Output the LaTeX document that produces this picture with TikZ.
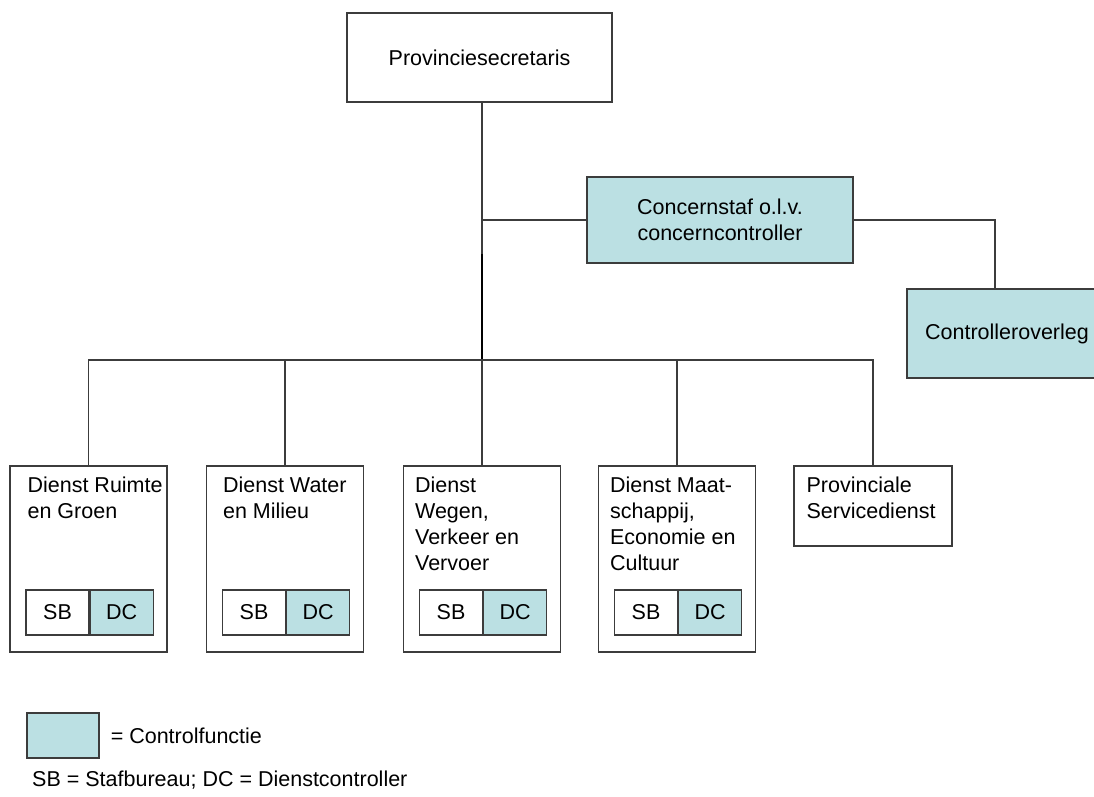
\documentclass[tikz,border=0pt]{standalone}
\usepackage{fontspec}
\setmainfont{Liberation Sans}
\definecolor{ctrlfill}{RGB}{187,224,227}
\definecolor{edge}{RGB}{60,60,60}
\begin{document}
\begin{tikzpicture}[x=1pt,y=-1pt,
  font=\fontsize{21.5}{26}\selectfont,
  box/.style={draw=edge, line width=1.2pt, inner sep=0pt, align=center},
  ctrl/.style={box, fill=ctrlfill},
  unit/.style={box, minimum width=157pt, minimum height=186pt},
  sub/.style={box, minimum width=63pt, minimum height=45pt},
  label/.style={inner sep=0pt, anchor=north west, align=left},
  link/.style={draw=edge, line width=1.2pt}]
\useasboundingbox (0,0) rectangle (1094,796);

% top of the organisation
\node[box, minimum width=265pt, minimum height=89pt] (ps) at (479.5,57.5) {Provinciesecretaris};
\node[ctrl, minimum width=266pt, minimum height=86pt] (cs) at (720,220) {Concernstaf o.l.v.\\concerncontroller};
\node[ctrl, minimum width=200pt, minimum height=89pt] (co) at (1007,333.5) {Controlleroverleg};

% departments
\node[unit] (d1) at (88.5,559) {};
\node[unit] (d2) at (285,559) {};
\node[unit] (d3) at (482,559) {};
\node[unit] (d4) at (677,559) {};
\node[box, minimum width=158pt, minimum height=80pt] (d5) at (873,506) {};

\node[label] (t1) at ([xshift=18pt,yshift=-11pt]d1.north west) {Dienst Ruimte\\en Groen};
\node[label] (t2) at ([xshift=17pt,yshift=-11pt]d2.north west) {Dienst Water\\en Milieu};
\node[label] (t3) at ([xshift=12pt,yshift=-11pt]d3.north west) {Dienst\\Wegen,\\Verkeer en\\Vervoer};
\node[label] (t4) at ([xshift=12pt,yshift=-11pt]d4.north west) {Dienst Maat-\\schappij,\\Economie en\\Cultuur};
\node[label] (t5) at ([xshift=13pt,yshift=-11pt]d5.north west) {Provinciale\\Servicedienst};

% staff bureau and department controller in each department
\foreach \d in {d1,d2,d3,d4}{
  \node[sub, anchor=north west] (\d sb) at ([xshift=16pt,yshift=-124pt]\d.north west) {SB};
  \node[sub, fill=ctrlfill, anchor=west] (\d dc) at (\d sb.east) {DC};
}

% connectors
\coordinate (bus) at (482,360);
\coordinate (joint) at (482,254);
\path[link] (ps.south -| bus) -- (joint);
\draw[line width=1.8pt, black] (joint) -- (bus);
\path[link] (cs.west) -- (cs.west -| bus);
\coordinate (coin) at ([xshift=-12pt]co.north);
\path[link] (cs.east) -| (coin);
\foreach \d in {d1,d2,d3,d4,d5}{
  \path[link] (bus) -| (\d.north);
}

% legend
\node[ctrl, minimum width=72pt, minimum height=45pt] (lg) at (63,735.5) {};
\node[anchor=west, inner sep=0pt] (lgt) at ([xshift=11pt]lg.east) {= Controlfunctie};
\node[anchor=base west, inner sep=0pt] (abbr) at (32,786) {SB = Stafbureau; DC = Dienstcontroller};
\end{tikzpicture}
\end{document}
